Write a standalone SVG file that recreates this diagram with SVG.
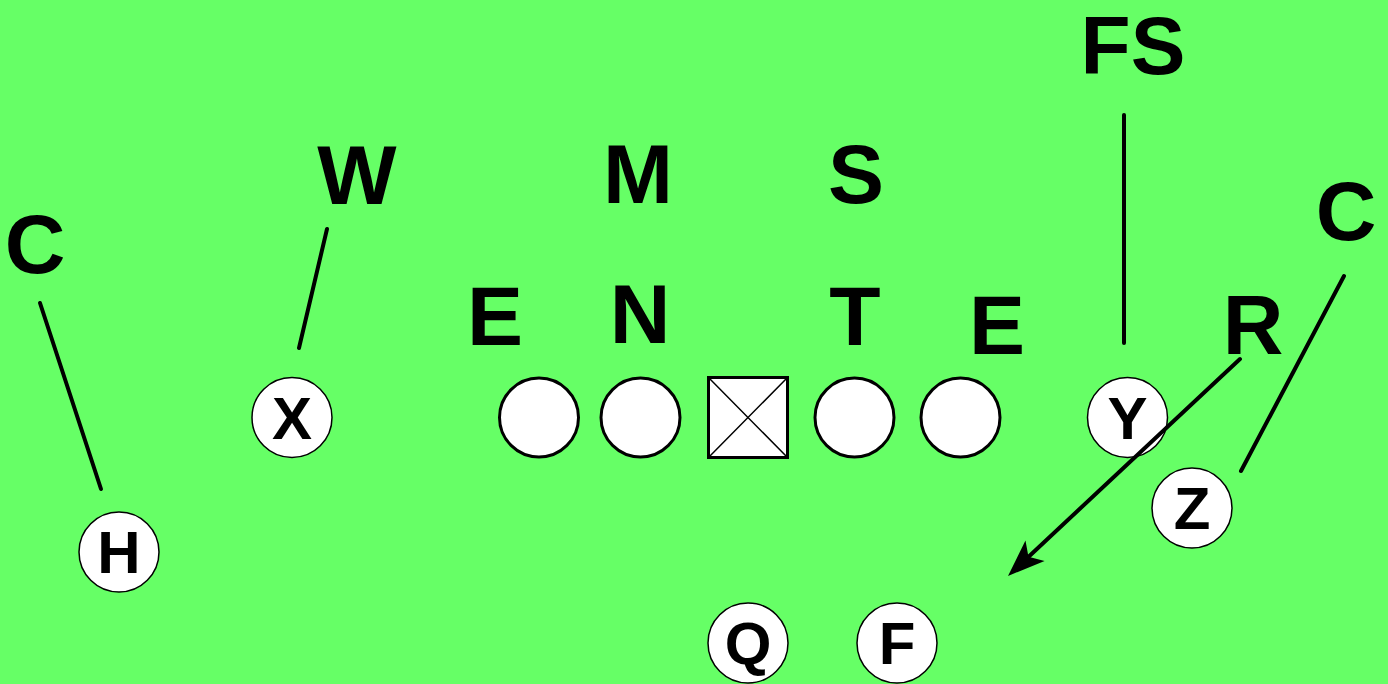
<svg xmlns="http://www.w3.org/2000/svg" width="1388" height="684" viewBox="0 0 1388 684">
<style>
.bg{fill:#66FF66}
.lbl{font-family:"Liberation Sans",Arial,sans-serif;font-weight:bold;font-size:84px;fill:#000;text-anchor:middle}
.pl{fill:#fff;stroke:#000;stroke-width:1.5}
.plt{font-family:"Liberation Sans",Arial,sans-serif;font-weight:bold;font-size:60px;fill:#000;text-anchor:middle}
.ol{fill:#fff;stroke:#000;stroke-width:3}
.ln{stroke:#000;stroke-width:4;stroke-linecap:round;fill:none}
</style>
<defs>
<marker id="ah" markerUnits="userSpaceOnUse" orient="auto" refX="-26" refY="0" markerWidth="60" markerHeight="60" overflow="visible">
<path d="M0,0 L-37,-14 L-28,0 L-37,14 Z" fill="#000"/>
</marker>
</defs>
<rect class="bg" x="0" y="0" width="1388" height="684"/>
<g id="labels">
<text class="lbl" x="35" y="273">C</text>
<text class="lbl" x="357" y="204">W</text>
<text class="lbl" x="638" y="203">M</text>
<text class="lbl" x="856" y="203">S</text>
<text class="lbl" x="1133" y="74" style="font-size:82px">FS</text>
<text class="lbl" x="1346" y="240">C</text>
<text class="lbl" x="495" y="345">E</text>
<text class="lbl" x="640" y="343">N</text>
<text class="lbl" x="855" y="345">T</text>
<text class="lbl" x="997" y="354">E</text>
<text class="lbl" x="1253" y="354">R</text>
</g>
<g id="ol1"><circle class="ol" cx="539" cy="417.5" r="39.5"/></g>
<g id="ol2"><circle class="ol" cx="640.5" cy="417.5" r="39.5"/></g>
<g id="center"><rect x="708.5" y="377.5" width="79" height="80" fill="#fff" stroke="#000" stroke-width="3"/><path d="M708.5,377.5 L787.5,457.5 M787.5,377.5 L708.5,457.5" stroke="#000" stroke-width="1.5"/></g>
<g id="ol3"><circle class="ol" cx="854.5" cy="417.5" r="39.5"/></g>
<g id="ol4"><circle class="ol" cx="960.5" cy="417.5" r="39.5"/></g>
<g id="X"><circle class="pl" cx="292" cy="417.5" r="40"/><text class="plt" x="292" y="438.5">X</text></g>
<g id="H"><circle class="pl" cx="119" cy="552" r="40"/><text class="plt" x="119" y="573">H</text></g>
<g id="Y"><circle class="pl" cx="1127.5" cy="417.5" r="40"/><text class="plt" x="1127.5" y="438.5">Y</text></g>
<g id="Z"><circle class="pl" cx="1192" cy="508" r="40"/><text class="plt" x="1192" y="529">Z</text></g>
<g id="Q"><circle class="pl" cx="748" cy="643" r="40"/><text class="plt" x="748" y="664">Q</text></g>
<g id="F"><circle class="pl" cx="897" cy="643" r="40"/><text class="plt" x="897" y="664">F</text></g>
<g id="connectors">
<line class="ln" x1="40" y1="303" x2="101" y2="489"/>
<line class="ln" x1="327" y1="229" x2="299" y2="348"/>
<line class="ln" x1="1124" y1="115" x2="1124" y2="343"/>
<line class="ln" x1="1344" y1="276" x2="1241" y2="471"/>
<line class="ln" x1="1240" y1="359" x2="1027" y2="558.2" marker-end="url(#ah)"/>
</g>
</svg>
